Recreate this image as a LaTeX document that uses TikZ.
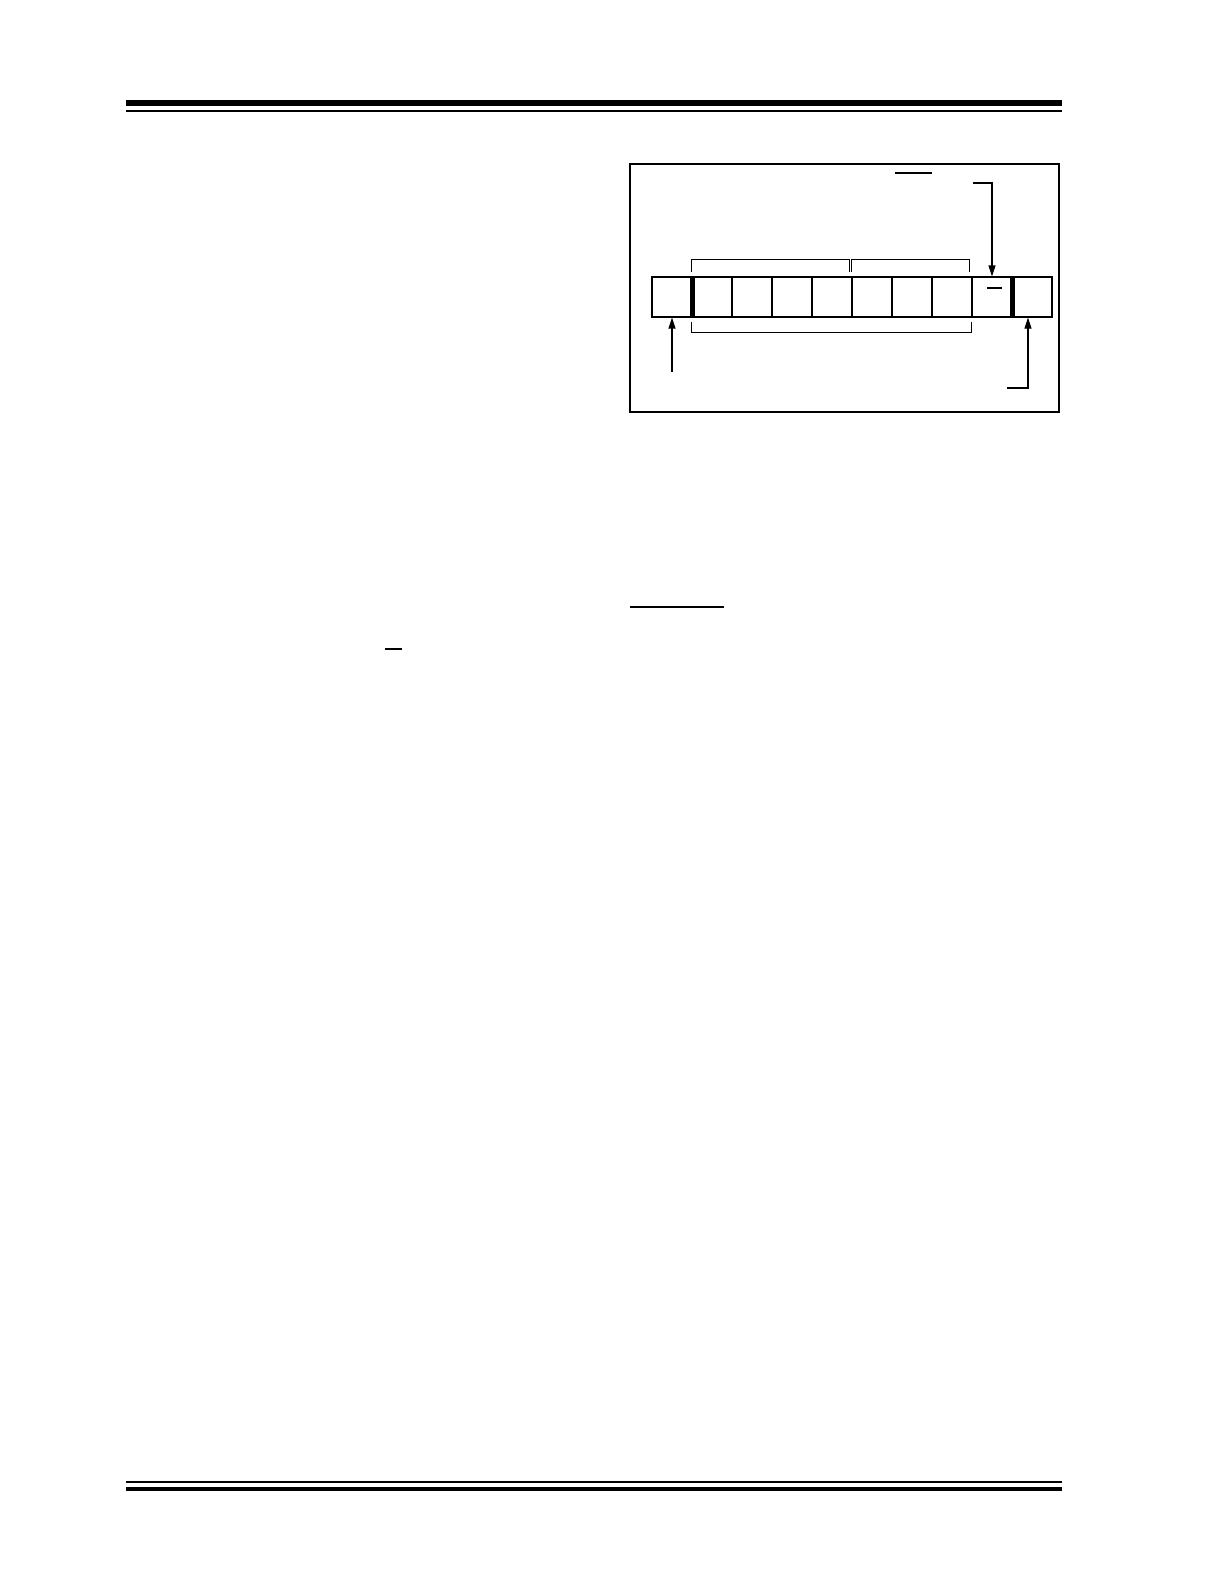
\documentclass[tikz,border=0pt]{standalone}
\usepackage{tikz}
\usetikzlibrary{arrows.meta,positioning}

\tikzset{
  cell/.style={draw,line width=0.6pt,minimum width=20pt,minimum height=20pt,inner sep=0pt},
  ptr/.style={line width=0.6pt,-{Triangle[length=5.5pt,width=3.5pt]}},
  brk/.style={line width=0.5pt}
}

\begin{document}
\begin{tikzpicture}[x=0.5pt,y=-0.5pt]
  \useasboundingbox (0,0) rectangle (1224,1584);
  % page rules
  \fill (126,100) rectangle (1062,106);
  \fill (126,110) rectangle (1062,112);
  \fill (126,1480.5) rectangle (1062,1482.5);
  \fill (126,1486.5) rectangle (1062,1490.5);
  % frame
  \draw[line width=0.6pt] (630,164) rectangle (1059,412);
  \draw[line width=0.6pt] (895,173) -- (932,173);
  % register cells
  \foreach \i in {0,...,9}
    \node[cell] (c\i) at (672+40*\i,297) {};
  \draw[line width=2.5pt] (c0.north east) -- (c0.south east);
  \draw[line width=2.5pt] (c8.north east) -- (c8.south east);
  \draw[line width=0.6pt] (987,288) -- (1002,288);
  % brackets
  \draw[brk] (691,272) |- (849,259) -- (849,272);
  \draw[brk] (851,272) |- (969,259) -- (969,272);
  \draw[brk] (691,322) |- (971,332) -- (971,322);
  % pointers
  \coordinate (topin) at (973,183);
  \coordinate (leftin) at (672,372);
  \coordinate (rightin) at (1007,388);
  \draw[ptr] (topin) -| (c8.north);
  \draw[ptr] (leftin) -- (c0.south);
  \draw[ptr] (rightin) -| ([xshift=-2pt]c9.south);
  % other overlines
  \draw[line width=0.6pt] (630,607) -- (724,607);
  \draw[line width=0.6pt] (385,649) -- (402,649);
\end{tikzpicture}
\end{document}
